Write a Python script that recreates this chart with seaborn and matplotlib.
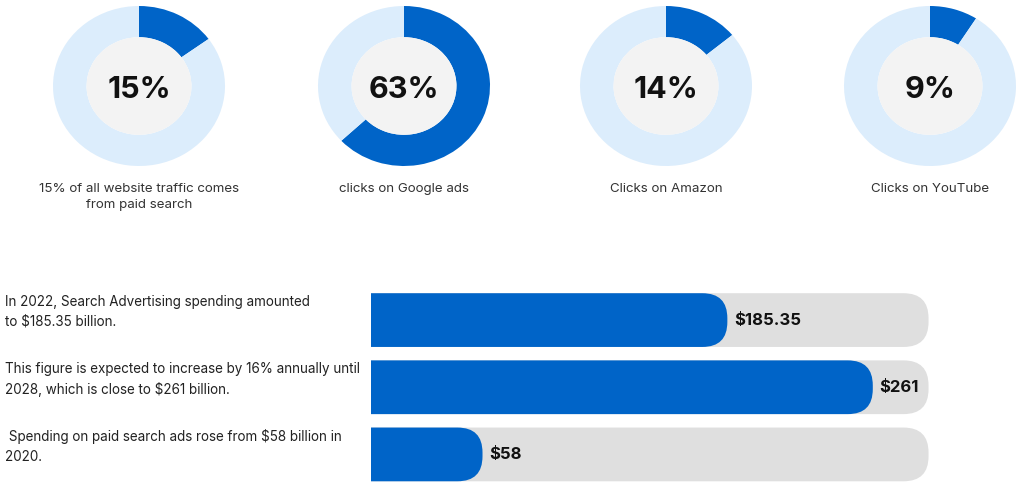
import numpy as np
import pandas as pd
import matplotlib.pyplot as plt
import matplotlib.transforms as mtransforms
from matplotlib.patches import FancyBboxPatch, Circle
import seaborn as sns

# donut data
donut_pcts = [15, 63, 14, 9]
donut_captions = ["15% of all website traffic comes\nfrom paid search",
                  "clicks on Google ads",
                  "Clicks on Amazon",
                  "Clicks on YouTube"]

# bar data
spend_notes = ["In 2022, Search Advertising spending amounted\nto $185.35 billion.",
               "This figure is expected to increase by 16% annually until\n2028, which is close to $261 billion.",
               " Spending on paid search ads rose from $58 billion in\n2020."]
spend_values = [185.35, 261, 58]
spend_labels = ["$185.35", "$261", "$58"]
track_max = 290

BLUE = "#0064c8"
LIGHT = "#dcedfc"
INNER = "#f3f3f3"
TRACK = "#dfdfdf"

sns.set_theme(style="white")
plt.rcParams['font.family'] = ['Inter', 'DejaVu Sans']

W, H = 1024, 490
fig = plt.figure(figsize=(W / 100, H / 100), dpi=100)
fig.patch.set_facecolor("white")

# ---- donuts ----
centers_x = [139, 404, 666, 930]
cy, rx, ry = 86, 86, 80
for cx, pct, cap in zip(centers_x, donut_pcts, donut_captions):
    ax = fig.add_axes([(cx - rx) / W, 1 - (cy + ry) / H, 2 * rx / W, 2 * ry / H])
    ax.pie([pct, 100 - pct], colors=[BLUE, LIGHT], startangle=90, counterclock=False,
           radius=1, wedgeprops=dict(width=0.39, linewidth=0))
    ax.add_patch(Circle((0, 0), 0.61, fc=INNER, ec="none"))
    ax.set_aspect("auto")
    ax.set_xlim(-1, 1)
    ax.set_ylim(-1, 1)
    ax.axis("off")
    ax.text(0, -0.05, f"{pct}%", ha="center", va="center", fontsize=22,
            fontweight="bold", color="#111111")
    fig.text(cx / W, 1 - 183 / H, cap, ha="center", va="top", fontsize=9.6,
             color="#333333", linespacing=1.4)

# ---- bars ----
px_per_unit = 1.9226
x_max = 300
bar_left = 371
bar_w = x_max * px_per_unit
top_px, bot_px = 286.5, 488
bx = fig.add_axes([bar_left / W, 1 - bot_px / H, bar_w / W, (bot_px - top_px) / H])

df = pd.DataFrame({"note": spend_notes, "value": spend_values,
                   "track": [track_max] * len(spend_values)})
sns.barplot(data=df, x="track", y="note", color=TRACK, width=0.8, ax=bx, saturation=1)
n_track = len(bx.patches)
sns.barplot(data=df, x="value", y="note", color=BLUE, width=0.8, ax=bx, saturation=1)
bx.set_xlim(0, x_max)
bx.set_ylim(2.5, -0.5)
bx.axis("off")

p0 = bx.transData.transform((0, 0))
px_x = bx.transData.transform((1, 0))[0] - p0[0]
px_y = abs(bx.transData.transform((0, 1))[1] - p0[1])

def round_right(patch, color, r_px=25):
    x, y = patch.get_x(), patch.get_y()
    w, h = patch.get_width(), patch.get_height()
    patch.set_visible(False)
    r = r_px / px_x
    box = FancyBboxPatch((x - r, y), w + r, h,
                         boxstyle=f"round,pad=0,rounding_size={r}",
                         mutation_aspect=px_x / px_y, fc=color, ec="none")
    bx.add_patch(box)

patches = list(bx.patches)
for p in patches[:n_track]:
    round_right(p, TRACK)
for p in patches[n_track:n_track + len(spend_values)]:
    round_right(p, BLUE)

for i, (v, lab) in enumerate(zip(spend_values, spend_labels)):
    bx.annotate(lab, xy=(v, i), xytext=(5, 0), textcoords="offset points",
                ha="left", va="center", fontsize=12, fontweight="bold", color="#111111")

trans = mtransforms.blended_transform_factory(fig.transFigure, bx.transData)
for i, note in enumerate(spend_notes):
    fig.text(5 / W, i - 0.12, note, transform=trans, ha="left", va="center",
             fontsize=9.7, color="#222222", linespacing=1.5)

fig.savefig("out.png", dpi=100, facecolor="white")
